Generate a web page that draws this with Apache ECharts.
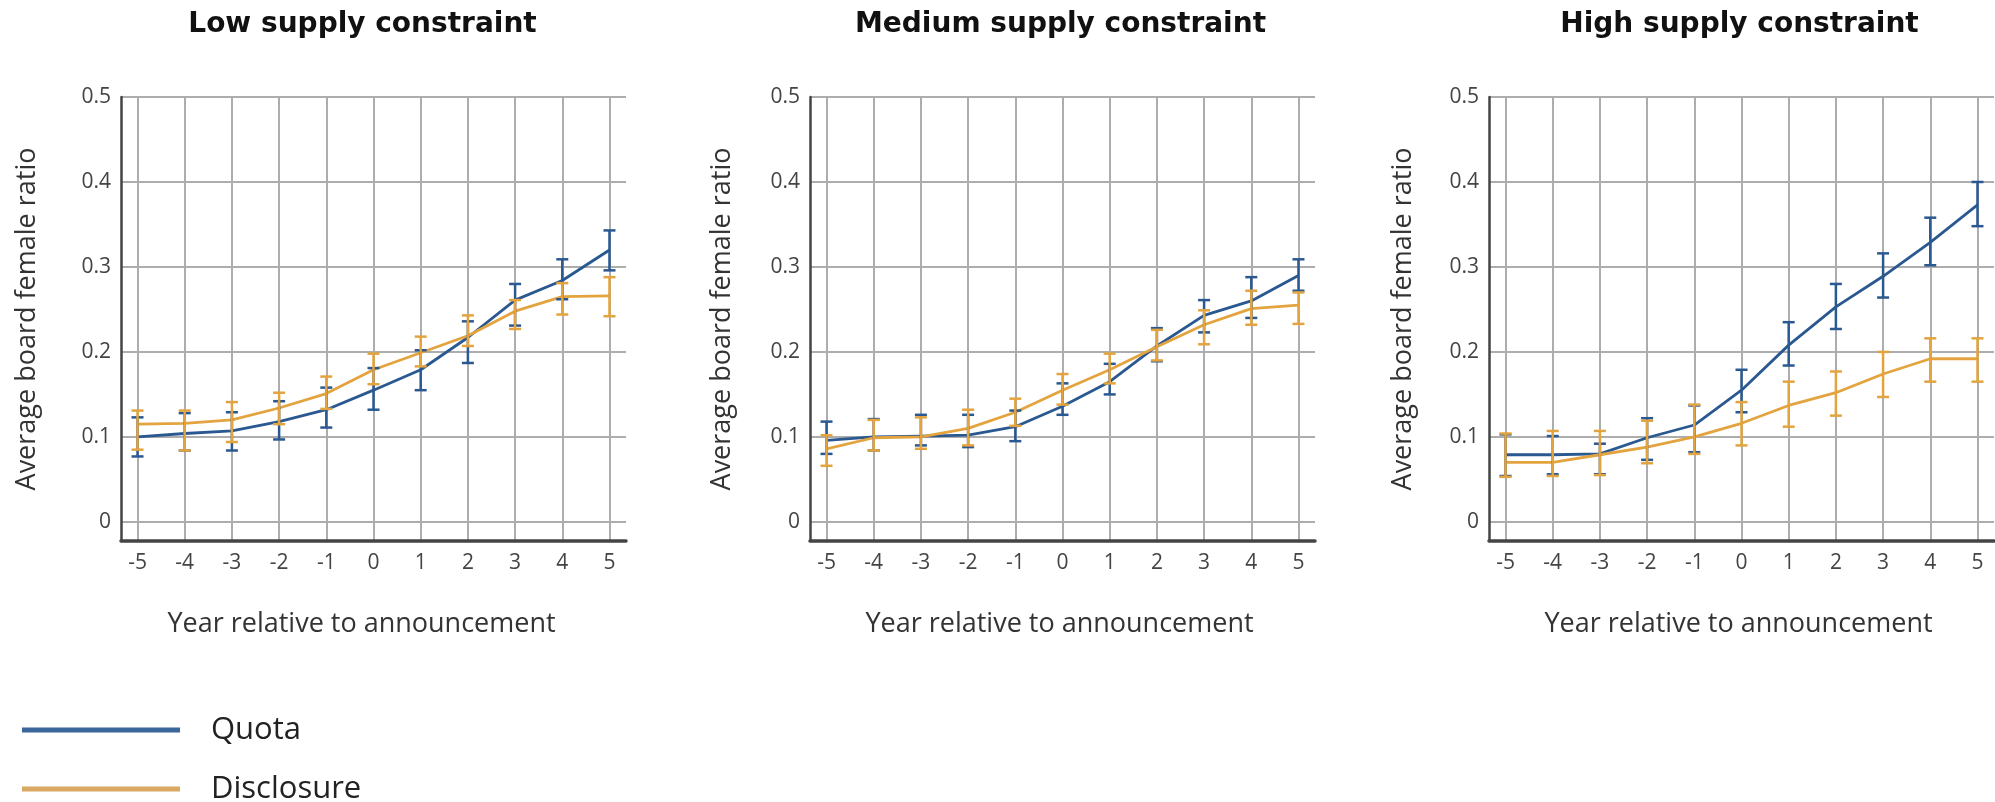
<!DOCTYPE html>
<html>
<head>
<meta charset="utf-8">
<script src="https://cdn.jsdelivr.net/npm/echarts@6/dist/echarts.min.js"></script>
<style>
html,body{margin:0;padding:0;background:#fff;}
#chart{width:1995px;height:802px;}
</style>
</head>
<body>
<div id="chart"></div>
<script>
// ---------- data ----------
const years = [-5, -4, -3, -2, -1, 0, 1, 2, 3, 4, 5];
const yTicks = [0, 0.1, 0.2, 0.3, 0.4, 0.5];
const panelTitles = ['Low supply constraint', 'Medium supply constraint', 'High supply constraint'];
const seriesNames = ['Quota', 'Disclosure'];
const yAxisName = 'Average board female ratio';
const xAxisName = 'Year relative to announcement';

// Low supply constraint
const quotaLow   = [0.100, 0.104, 0.107, 0.118, 0.132, 0.155, 0.179, 0.217, 0.261, 0.284, 0.320];
const quotaLowLo = [0.077, 0.084, 0.084, 0.097, 0.111, 0.132, 0.155, 0.187, 0.231, 0.262, 0.296];
const quotaLowHi = [0.123, 0.128, 0.129, 0.142, 0.158, 0.181, 0.202, 0.236, 0.280, 0.309, 0.343];
const discLow    = [0.115, 0.116, 0.120, 0.134, 0.151, 0.179, 0.199, 0.219, 0.248, 0.265, 0.266];
const discLowLo  = [0.085, 0.084, 0.094, 0.115, 0.133, 0.162, 0.183, 0.207, 0.227, 0.244, 0.242];
const discLowHi  = [0.131, 0.131, 0.141, 0.152, 0.171, 0.198, 0.218, 0.243, 0.261, 0.281, 0.288];

// Medium supply constraint
const quotaMed   = [0.096, 0.100, 0.101, 0.102, 0.112, 0.136, 0.165, 0.207, 0.243, 0.260, 0.290];
const quotaMedLo = [0.080, 0.084, 0.090, 0.088, 0.095, 0.126, 0.150, 0.189, 0.223, 0.240, 0.272];
const quotaMedHi = [0.118, 0.121, 0.126, 0.126, 0.131, 0.163, 0.186, 0.228, 0.261, 0.288, 0.309];
const discMed    = [0.086, 0.099, 0.100, 0.110, 0.129, 0.155, 0.179, 0.206, 0.232, 0.251, 0.255];
const discMedLo  = [0.066, 0.084, 0.086, 0.090, 0.113, 0.138, 0.163, 0.190, 0.209, 0.232, 0.233];
const discMedHi  = [0.102, 0.120, 0.123, 0.132, 0.145, 0.174, 0.198, 0.226, 0.249, 0.272, 0.270];

// High supply constraint
const quotaHigh   = [0.079, 0.079, 0.080, 0.099, 0.114, 0.155, 0.208, 0.253, 0.289, 0.329, 0.373];
const quotaHighLo = [0.054, 0.056, 0.056, 0.073, 0.082, 0.129, 0.184, 0.227, 0.264, 0.302, 0.348];
const quotaHighHi = [0.103, 0.101, 0.092, 0.122, 0.137, 0.179, 0.235, 0.280, 0.316, 0.358, 0.400];
const discHigh    = [0.070, 0.070, 0.079, 0.088, 0.100, 0.116, 0.137, 0.152, 0.174, 0.192, 0.192];
const discHighLo  = [0.053, 0.054, 0.055, 0.069, 0.080, 0.090, 0.112, 0.125, 0.147, 0.165, 0.165];
const discHighHi  = [0.104, 0.107, 0.107, 0.119, 0.138, 0.141, 0.165, 0.177, 0.200, 0.216, 0.216];

// ---------- styling / layout ----------
const BLUE = '#2A5891';
const ORANGE = '#E3A43F';
const FONT = 'Open Sans';
const gridLefts = [121, 810, 1489];
const gridWidth = 505;
const gridTop = 97;
const gridHeight = 444;
const yNameGaps = [80, 74, 72];
const titleShift = [-16, -7, -7];
const xNamePad = [[0, 24, 0, 0], [0, 6, 0, 0], [0, 6, 0, 0]];

const panels = [
  {q: quotaLow, qLo: quotaLowLo, qHi: quotaLowHi, d: discLow, dLo: discLowLo, dHi: discLowHi},
  {q: quotaMed, qLo: quotaMedLo, qHi: quotaMedHi, d: discMed, dLo: discMedLo, dHi: discMedHi},
  {q: quotaHigh, qLo: quotaHighLo, qHi: quotaHighHi, d: discHigh, dLo: discHighLo, dHi: discHighHi}
];

function renderErr(params, api) {
  const x = api.value(0), lo = api.value(1), hi = api.value(2);
  const p1 = api.coord([x, hi]);
  const p2 = api.coord([x, lo]);
  const hw = 6;
  const style = {stroke: api.visual('color'), lineWidth: 2.5, fill: null};
  return {
    type: 'group',
    children: [
      {type: 'line', shape: {x1: p1[0], y1: p1[1], x2: p2[0], y2: p2[1]}, style: style},
      {type: 'line', shape: {x1: p1[0] - hw, y1: p1[1], x2: p1[0] + hw, y2: p1[1]}, style: style},
      {type: 'line', shape: {x1: p2[0] - hw, y1: p2[1], x2: p2[0] + hw, y2: p2[1]}, style: style}
    ]
  };
}

const grids = [], xAxes = [], yAxes = [], series = [], titles = [];
panels.forEach((p, i) => {
  grids.push({left: gridLefts[i], top: gridTop, width: gridWidth, height: gridHeight, containLabel: false});
  titles.push({
    text: panelTitles[i],
    left: gridLefts[i] + gridWidth / 2 + titleShift[i],
    top: 6,
    textAlign: 'center',
    textStyle: {fontFamily: 'DejaVu Sans', fontWeight: 'bold', fontSize: 28, color: '#111'}
  });
  xAxes.push({
    type: 'value', gridIndex: i, min: -5.35, max: 5.35,
    name: xAxisName, nameLocation: 'middle', nameGap: 70,
    nameTextStyle: {fontFamily: FONT, fontSize: 27, color: '#333', padding: xNamePad[i]},
    axisLine: {show: true, onZero: false, lineStyle: {color: '#444', width: 3.5}},
    axisTick: {show: false, customValues: years},
    axisLabel: {customValues: years, margin: 12, fontFamily: FONT, fontSize: 21, color: '#444'},
    splitLine: {show: true, lineStyle: {color: '#adadad', width: 2}}
  });
  yAxes.push({
    type: 'value', gridIndex: i, min: -0.0225, max: 0.5,
    name: yAxisName, nameLocation: 'middle', nameGap: yNameGaps[i],
    nameTextStyle: {fontFamily: FONT, fontSize: 27, color: '#333'},
    axisLine: {show: true, onZero: false, lineStyle: {color: '#444', width: 2.5}},
    axisTick: {show: false, customValues: yTicks},
    axisLabel: {customValues: yTicks, margin: 10, fontFamily: FONT, fontSize: 21, color: '#444',
      formatter: v => (Math.abs(v) < 1e-9 ? '0' : v.toFixed(1))},
    splitLine: {show: true, lineStyle: {color: '#adadad', width: 2}}
  });
  series.push({
    name: seriesNames[0], type: 'line', xAxisIndex: i, yAxisIndex: i,
    data: years.map((y, k) => [y, p.q[k]]), symbol: 'none',
    lineStyle: {color: BLUE, width: 2.8}, itemStyle: {color: BLUE}, z: 3
  });
  series.push({
    name: seriesNames[1], type: 'line', xAxisIndex: i, yAxisIndex: i,
    data: years.map((y, k) => [y, p.d[k]]), symbol: 'none',
    lineStyle: {color: ORANGE, width: 2.8}, itemStyle: {color: ORANGE}, z: 3
  });
  series.push({
    name: seriesNames[0], type: 'custom', xAxisIndex: i, yAxisIndex: i,
    data: years.map((y, k) => [y, p.qLo[k], p.qHi[k]]),
    renderItem: renderErr, itemStyle: {color: BLUE}, z: 4,
    encode: {x: 0, y: [1, 2]}
  });
  series.push({
    name: seriesNames[1], type: 'custom', xAxisIndex: i, yAxisIndex: i,
    data: years.map((y, k) => [y, p.dLo[k], p.dHi[k]]),
    renderItem: renderErr, itemStyle: {color: ORANGE}, z: 4,
    encode: {x: 0, y: [1, 2]}
  });
});

const legendBase = {
  left: 17, icon: 'rect', itemWidth: 158, itemHeight: 5,
  selectedMode: false,
  textStyle: {fontFamily: FONT, fontSize: 31, color: '#222', lineHeight: 36, padding: [0, 0, 0, 26]}
};

const chart = echarts.init(document.getElementById('chart'), null, {renderer: 'canvas'});
chart.setOption({
  animation: false,
  backgroundColor: '#fff',
  title: titles,
  legend: [
    Object.assign({}, legendBase, {top: 707, data: [{name: seriesNames[0], itemStyle: {color: '#3A6699'}}]}),
    Object.assign({}, legendBase, {top: 766, data: [{name: seriesNames[1], itemStyle: {color: '#D9A862'}}]})
  ],
  grid: grids,
  xAxis: xAxes,
  yAxis: yAxes,
  series: series
});
</script>
</body>
</html>
